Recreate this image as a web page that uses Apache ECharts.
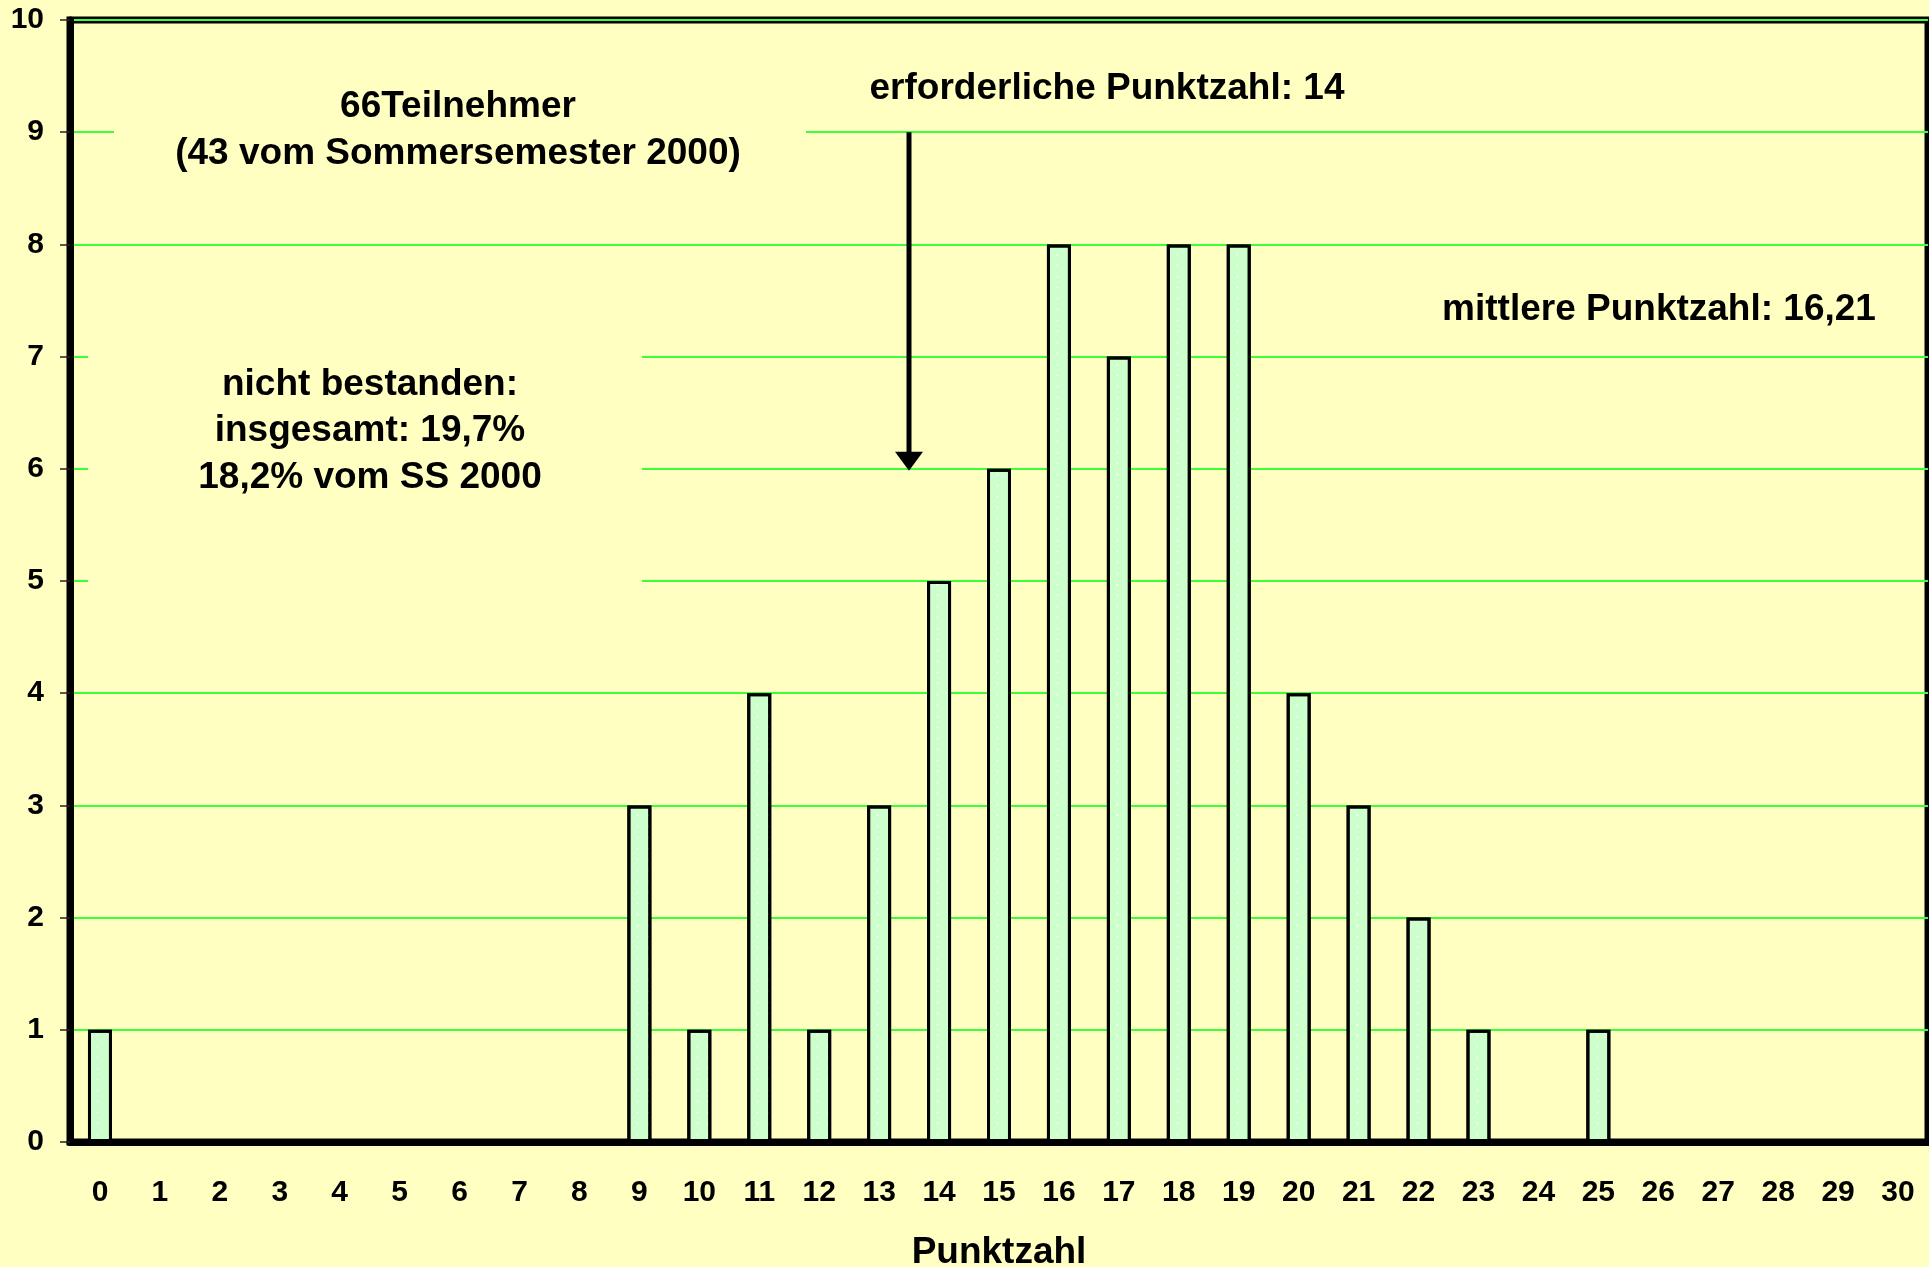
<!DOCTYPE html>
<html>
<head>
<meta charset="utf-8">
<script src="https://cdn.jsdelivr.net/npm/echarts@6/dist/echarts.min.js"></script>
<style>
  html, body { margin: 0; padding: 0; background: #ffffc2; }
  #chart { width: 1929px; height: 1267px; }
</style>
</head>
<body>
<div id="chart"></div>
<script>
// Punktzahl-Verteilung
const punktzahl = ['0', '1', '2', '3', '4', '5', '6', '7', '8', '9', '10', '11', '12', '13', '14', '15',
  '16', '17', '18', '19', '20', '21', '22', '23', '24', '25', '26', '27', '28', '29', '30']
const anzahl = [1, 0, 0, 0, 0, 0, 0, 0, 0, 3, 1, 4, 1, 3, 5, 6, 8, 7, 8, 8, 4, 3, 2, 1, 0, 1, 0, 0, 0, 0, 0]
const yMin = 0
const yMax = 10
const yStep = 1

const teilnehmerText = ['66Teilnehmer', '(43 vom Sommersemester 2000)']
const bestandenText = ['nicht bestanden:', 'insgesamt: 19,7%', '18,2% vom SS 2000']
const erforderlichText = 'erforderliche Punktzahl: 14'
const mittelText = 'mittlere Punktzahl: 16,21'
const erforderlich = 14
const pfeilVon = 9
const pfeilBis = 6

const FONT = '"Liberation Sans", Arial, sans-serif'
const BG = '#ffffc2'

const myChart = echarts.init(document.getElementById('chart'))
myChart.setOption({
  backgroundColor: BG,
  animation: false,
  grid: {
    left: 70,
    right: 1,
    top: 20,
    bottom: 125,
    outerBoundsMode: 'none',
    containLabel: false,
    show: true,
    backgroundColor: BG,
    borderColor: '#000',
    borderWidth: 7
  },
  xAxis: {
    type: 'category',
    data: punktzahl,
    name: 'Punktzahl',
    nameLocation: 'middle',
    nameGap: 92,
    nameTextStyle: { fontFamily: FONT, fontWeight: 'bold', fontSize: 37, color: '#000' },
    axisLine: { lineStyle: { color: '#000', width: 7 } },
    axisTick: { length: 10, lineStyle: { color: '#222', width: 1.5 } },
    axisLabel: { fontFamily: FONT, fontWeight: 'bold', fontSize: 30, color: '#000', margin: 36 },
    splitLine: { show: false }
  },
  yAxis: {
    type: 'value',
    min: yMin,
    max: yMax,
    interval: yStep,
    axisLine: { show: true, lineStyle: { color: '#000', width: 7 } },
    axisTick: { show: true, length: 10, lineStyle: { color: '#222', width: 1.5 } },
    axisLabel: { fontFamily: FONT, fontWeight: 'bold', fontSize: 30, color: '#000', margin: 26 },
    splitLine: { lineStyle: { color: '#3cff3c', width: 2 } }
  },
  series: [{
    type: 'bar',
    data: anzahl,
    barWidth: '40%',
    itemStyle: {
      color: '#ccffcc',
      borderColor: '#000',
      borderWidth: 3,
      decal: {
        symbol: 'circle',
        symbolSize: 0.7,
        color: 'rgba(255,255,255,0.85)',
        dashArrayX: [3, 9],
        dashArrayY: [3, 8]
      }
    },
    z: 3
  }]
})

// Anmerkungen und Pfeil
const p9 = myChart.convertToPixel({ gridIndex: 0 }, [erforderlich - 1, pfeilVon])
const p14 = myChart.convertToPixel({ gridIndex: 0 }, [erforderlich, pfeilBis])
const pfeilX = Math.round((p9[0] + p14[0]) / 2)
const yTop = p9[1]
const yTip = p14[1] + 2

function txt(text, x, y) {
  return {
    type: 'text',
    z: 20,
    style: {
      text: text, x: x, y: y + 4,
      font: 'bold 37px ' + FONT,
      fill: '#000',
      align: 'center', verticalAlign: 'middle',
      textAlign: 'center', textVerticalAlign: 'middle'
    }
  }
}

const elements = [
  { type: 'rect', z: 10, shape: { x: 114, y: 60, width: 692, height: 120 }, style: { fill: BG } },
  { type: 'rect', z: 10, shape: { x: 88, y: 320, width: 554, height: 300 }, style: { fill: BG } },
  txt(teilnehmerText[0], 458, 103),
  txt(teilnehmerText[1], 458, 150),
  txt(erforderlichText, 1107, 85),
  txt(mittelText, 1659, 306),
  txt(bestandenText[0], 370, 381),
  txt(bestandenText[1], 370, 427),
  txt(bestandenText[2], 370, 474),
  {
    type: 'line', z: 20,
    shape: { x1: pfeilX, y1: yTop, x2: pfeilX, y2: yTip - 16 },
    style: { stroke: '#000', lineWidth: 5 }
  },
  {
    type: 'polygon', z: 20,
    shape: { points: [[pfeilX - 14, yTip - 19], [pfeilX + 14, yTip - 19], [pfeilX, yTip]] },
    style: { fill: '#000' }
  }
]
myChart.setOption({ graphic: { elements: elements } })
</script>
</body>
</html>
